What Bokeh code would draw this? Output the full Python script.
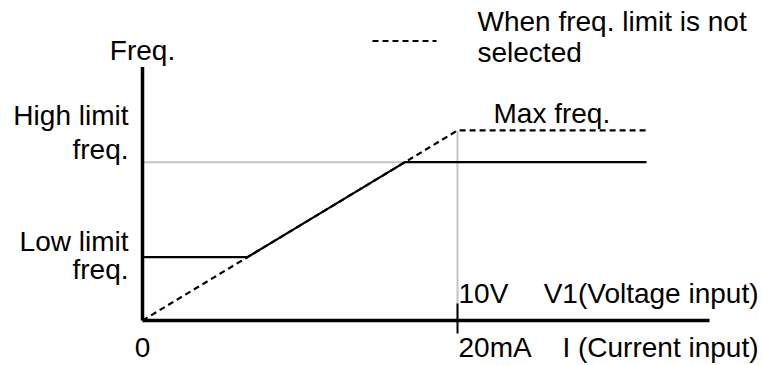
from bokeh.plotting import figure
from bokeh.models import Range1d
from bokeh.core.properties import value
from bokeh.embed import file_html
from bokeh.resources import INLINE

# ---- data (chart values) ----
v_full = 10          # 10V / 20mA point on the input axis
x_line_end = 16      # where the characteristic lines stop
x_axis_end = 18
y_axis_end = 80
max_freq = 60
high_limit = 50
low_limit = 20

# characteristic with limits (solid)
lim_x = [0, low_limit / max_freq * v_full, high_limit / max_freq * v_full, x_line_end]
lim_y = [low_limit, low_limit, high_limit, high_limit]
# characteristic without limits (dashed)
nolim_x = [0, v_full, x_line_end]
nolim_y = [0, max_freq, max_freq]

W, H = 763, 365
SX, SY = 31.5, 3.1675  # px per data unit
x0, y0 = -142 / SX, (320 - H) / SY

p = figure(width=W, height=H, output_backend="svg", toolbar_location=None,
           x_range=Range1d(x0, x0 + W / SX), y_range=Range1d(y0, y0 + H / SY),
           min_border=0)
p.axis.visible = False
p.grid.visible = False
p.outline_line_color = None
p.background_fill_color = "white"

def dx(px):
    return px / SX

def dy(px):
    return px / SY

GRAY = "#c4c4c4"
# guide lines
p.line([0, lim_x[2]], [high_limit, high_limit], line_color=GRAY, line_width=2)
p.line([v_full, v_full], [0, max_freq], line_color=GRAY, line_width=2)

# axes
p.line([0, 0], [0, y_axis_end], line_color="black", line_width=3.5)
p.line([0, x_axis_end], [0, 0], line_color="black", line_width=3.5)
# tick at 10V
p.line([v_full, v_full], [dy(17), -dy(13)], line_color="black", line_width=2)

# curves
p.line(nolim_x, nolim_y, line_color="black", line_width=2.2, line_dash="6 4")
p.line(lim_x, lim_y, line_color="black", line_width=2.2)

# legend sample
p.line([v_full - dx(85), v_full - dx(21)], [y_axis_end + dy(26), y_axis_end + dy(26)],
       line_color="black", line_width=2, line_dash="6 4")

FONT = "Liberation Sans"
FS = "28px"
BFIX = 10.5  # baseline correction in px

def lab(x, y, t, align="left"):
    p.text(x=[x], y=[y + dy(BFIX)], text=[t], text_font=value(FONT), text_font_size=FS,
           text_align=align, text_baseline="alphabetic", text_color="black")

lab(0, y_axis_end + dy(6), "Freq.", "center")
lab(-dx(14), high_limit + dy(36), "High limit", "right")
lab(-dx(14), high_limit + dy(2), "freq.", "right")
lab(-dx(14), low_limit + dy(5), "Low limit", "right")
lab(-dx(14), low_limit - dy(23), "freq.", "right")
lab(0, -dy(37), "0", "center")
lab(v_full + dx(1), dy(17), "10V")
lab(v_full + dx(301), dy(17), "V1(Voltage input)", "right")
lab(v_full + dx(1), -dy(37), "20mA")
lab(v_full + dx(301), -dy(37), "I (Current input)", "right")
lab(v_full + dx(36), max_freq + dy(6), "Max freq.")
lab(v_full + dx(20), y_axis_end + dy(35), "When freq. limit is not")
lab(v_full + dx(20), y_axis_end + dy(4), "selected")

open("out.html", "w").write(file_html(p, INLINE))
